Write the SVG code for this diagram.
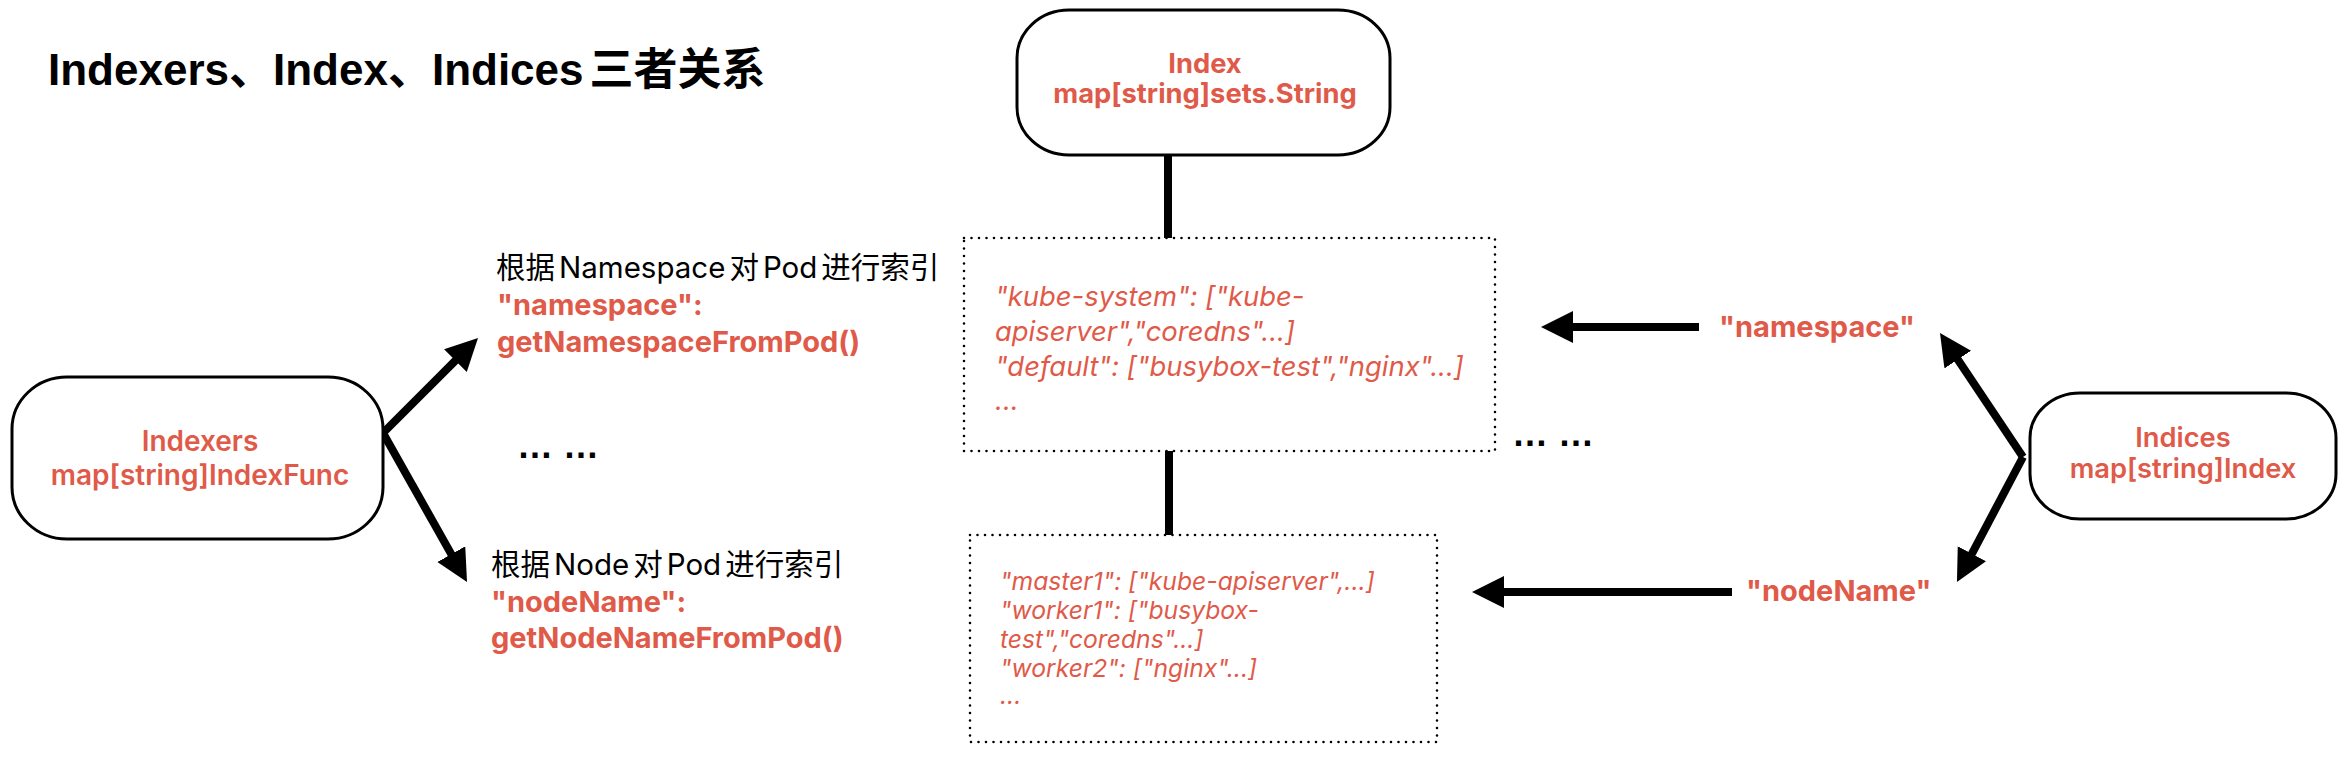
<svg xmlns="http://www.w3.org/2000/svg" width="2350" height="758" viewBox="0 0 2350 758">
<style>
.node{fill:#fff;stroke:#000;stroke-width:3}
.dots{fill:none;stroke:#000;stroke-width:2.6;stroke-dasharray:0 7.5;stroke-linecap:round}
.red{fill:#DF5A49;font-family:Inter,"Liberation Sans","Noto Sans CJK SC",sans-serif}
.lbl{fill:#000;font-family:Inter,"Noto Sans CJK SC",sans-serif;font-size:29.5px}
.code{fill:#DF5A49;font-family:Inter,"Liberation Sans",sans-serif;font-style:italic}
.conn{stroke:#000;stroke-width:8;fill:none}
.ell{font-family:"Liberation Sans",sans-serif;font-weight:bold;font-size:36px;fill:#000}
</style>
<defs>
<marker id="ah" markerUnits="userSpaceOnUse" markerWidth="34" markerHeight="34" refX="12" refY="16" orient="auto">
<path d="M0,0 L32,16 L0,32 z" fill="#000"/>
</marker>
</defs>
<rect width="2350" height="758" fill="#fff"/>
<text x="48" y="85" font-family="'Liberation Sans','Noto Sans CJK SC',sans-serif" font-weight="bold" font-size="44" fill="#000">Indexers、Index、Indices<tspan dx="6">三者关系</tspan></text>

<g id="connectors">
<line class="conn" x1="1168" y1="155" x2="1168" y2="238"/>
<line class="conn" x1="1169" y1="451" x2="1169" y2="535"/>
<line class="conn" x1="383" y1="433" x2="463.9" y2="352.1" marker-end="url(#ah)"/>
<line class="conn" x1="383" y1="433" x2="457.2" y2="564.6" marker-end="url(#ah)"/>
<line class="conn" x1="1699" y1="327" x2="1561" y2="327" marker-end="url(#ah)"/>
<line class="conn" x1="1732" y1="592" x2="1492" y2="592" marker-end="url(#ah)"/>
<line class="conn" x1="2023" y1="457" x2="1951.1" y2="349.6" marker-end="url(#ah)"/>
<line class="conn" x1="2023" y1="457" x2="1966.3" y2="564.3" marker-end="url(#ah)"/>
</g>

<g id="index">
<rect class="node" x="1017" y="10" width="373" height="145" rx="52" ry="48"/>
<text class="red" x="1205" y="73" text-anchor="middle" font-size="27.3" font-weight="700">Index</text>
<text class="red" x="1205" y="103" text-anchor="middle" font-size="27.3" font-weight="700">map[string]sets.String</text>
</g>

<g id="indexers">
<rect class="node" x="12" y="377" width="371" height="162" rx="55" ry="52"/>
<text class="red" x="200" y="451" text-anchor="middle" font-size="28" font-weight="600">Indexers</text>
<text class="red" x="200" y="485" text-anchor="middle" font-size="28" font-weight="600">map[string]IndexFunc</text>
</g>

<g id="indices">
<rect class="node" x="2030" y="393" width="306" height="126" rx="50" ry="45"/>
<text class="red" x="2183" y="447" text-anchor="middle" font-size="27.3" font-weight="600">Indices</text>
<text class="red" x="2183" y="478" text-anchor="middle" font-size="27.3" font-weight="600">map[string]Index</text>
</g>

<g id="indexfunc-namespace">
<text class="lbl" x="496" y="278">根据<tspan dx="4">Namespace</tspan><tspan dx="4">对</tspan><tspan dx="4">Pod</tspan><tspan dx="4">进行索引</tspan></text>
<text class="red" x="497" y="315" font-size="29" font-weight="700">"namespace":</text>
<text class="red" x="497" y="352" font-size="29" font-weight="700">getNamespaceFromPod()</text>
</g>

<g id="indexfunc-nodename">
<text class="lbl" x="491" y="575">根据<tspan dx="4">Node</tspan><tspan dx="4">对</tspan><tspan dx="4">Pod</tspan><tspan dx="4">进行索引</tspan></text>
<text class="red" x="491" y="612" font-size="29" font-weight="700">"nodeName":</text>
<text class="red" x="491" y="648" font-size="29" font-weight="700">getNodeNameFromPod()</text>
</g>

<g id="ellipsis-left"><text class="ell" x="517" y="458">… …</text></g>

<g id="index-namespace">
<rect class="dots" x="964" y="238" width="531" height="213"/>
<text class="code" font-size="27.4">
<tspan x="995" y="306">"kube-system": ["kube-</tspan>
<tspan x="995" y="341">apiserver","coredns"...]</tspan>
<tspan x="995" y="376">"default": ["busybox-test","nginx"...]</tspan>
<tspan x="995" y="410">...</tspan>
</text>
</g>

<g id="index-nodename">
<rect class="dots" x="970" y="535" width="467" height="207"/>
<text class="code" font-size="24.7">
<tspan x="1000" y="590">"master1": ["kube-apiserver",...]</tspan>
<tspan x="1000" y="619">"worker1": ["busybox-</tspan>
<tspan x="1000" y="648">test","coredns"...]</tspan>
<tspan x="1000" y="677">"worker2": ["nginx"...]</tspan>
<tspan x="1000" y="704">...</tspan>
</text>
</g>

<g id="ellipsis-right"><text class="ell" x="1512" y="446">… …</text></g>

<g id="key-namespace"><text class="red" x="1719" y="337" font-size="29" font-weight="700">"namespace"</text></g>
<g id="key-nodename"><text class="red" x="1746" y="601" font-size="29" font-weight="700">"nodeName"</text></g>
</svg>
